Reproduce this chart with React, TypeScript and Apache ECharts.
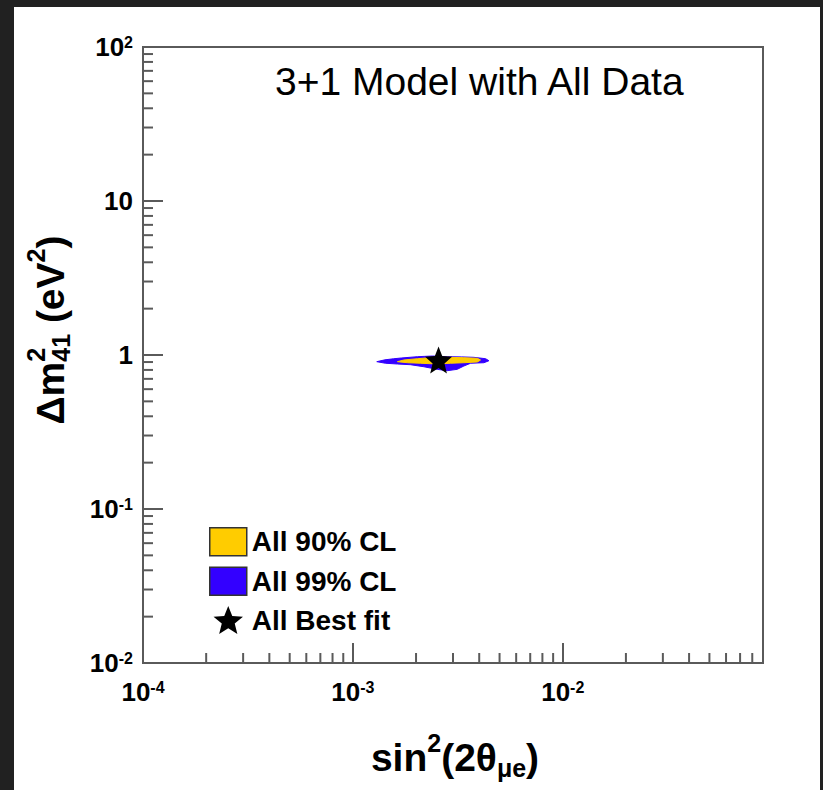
import React, { useEffect, useRef } from "react";
import * as echarts from "echarts";

const FONT = '"Liberation Sans", Arial, Helvetica, sans-serif';

// ---- data ----
const chartTitle = "3+1 Model with All Data";
const seriesNames = ["All 90% CL", "All 99% CL", "All Best fit"];

const xRange = [1e-4, 0.09];
const yRange = [1e-2, 1e2];
const xMajorTicks = [1e-4, 1e-3, 1e-2];
const yMajorTicks = [1e-2, 1e-1, 1, 10, 100];
const xMinorTicks = [
  2e-4, 3e-4, 4e-4, 5e-4, 6e-4, 7e-4, 8e-4, 9e-4,
  2e-3, 3e-3, 4e-3, 5e-3, 6e-3, 7e-3, 8e-3, 9e-3,
  0.02, 0.03, 0.04, 0.05, 0.06, 0.07, 0.08,
];
const yMinorTicks = [
  0.02, 0.03, 0.04, 0.05, 0.06, 0.07, 0.08, 0.09,
  0.2, 0.3, 0.4, 0.5, 0.6, 0.7, 0.8, 0.9,
  2, 3, 4, 5, 6, 7, 8, 9,
  20, 30, 40, 50, 60, 70, 80, 90,
];

// 99% CL contour (sin^2 2theta, dm^2)
const contour99Sin = [
  1.30e-3, 1.42e-3, 1.56e-3, 1.70e-3, 2.03e-3, 2.40e-3, 2.82e-3, 3.30e-3, 3.77e-3, 4.29e-3, 4.45e-3,
  4.21e-3, 3.64e-3, 3.38e-3, 3.14e-3, 2.82e-3, 2.52e-3, 2.18e-3, 1.88e-3, 1.63e-3, 1.43e-3,
];
const contour99Dm = [
  0.905, 0.930, 0.945, 0.956, 0.975, 0.985, 0.975, 0.972, 0.966, 0.946, 0.918,
  0.891, 0.884, 0.848, 0.807, 0.791, 0.807, 0.839, 0.865, 0.874, 0.884,
];
// 90% CL contour
const contour90Sin = [
  1.63e-3, 1.75e-3, 2.03e-3, 2.34e-3, 2.82e-3, 3.38e-3, 3.92e-3, 4.06e-3,
  3.92e-3, 3.38e-3, 2.92e-3, 2.52e-3, 2.10e-3, 1.82e-3,
];
const contour90Dm = [
  0.905, 0.928, 0.946, 0.961, 0.966, 0.961, 0.952, 0.928,
  0.901, 0.891, 0.884, 0.874, 0.884, 0.891,
];
const bestFitSin = [2.56e-3];
const bestFitDm = [0.928];

// ---- helpers ----
const lg = (v: number) => Math.log10(v);
const STAR =
  "path://M50 0 L62.93 32.2 L97.55 34.55 L70.92 56.8 L79.39 90.45 L50 72 L20.61 90.45 L29.08 56.8 L2.45 34.55 L37.07 32.2 Z";

let ctx: CanvasRenderingContext2D | null = null;
function measure(t: string, size: number) {
  if (!ctx) ctx = document.createElement("canvas").getContext("2d");
  if (!ctx) return t.length * size * 0.55;
  ctx.font = `bold ${size}px ${FONT}`;
  return ctx.measureText(t).width;
}

type Piece = { t: string; size: number; dy: number; stack?: boolean };
function buildRow(items: Piece[]) {
  let x = 0;
  const children: any[] = [];
  const mk = (it: Piece, px: number) => ({
    type: "text",
    x: px,
    y: it.dy,
    style: {
      text: it.t,
      fontSize: it.size,
      fontWeight: "bold",
      fontFamily: FONT,
      fill: "#000",
      align: "left",
      verticalAlign: "middle",
    },
  });
  let i = 0;
  while (i < items.length) {
    const it = items[i];
    if (it.stack && items[i + 1]) {
      const it2 = items[i + 1];
      children.push(mk(it, x), mk(it2, x));
      x += Math.max(measure(it.t, it.size), measure(it2.t, it2.size));
      i += 2;
    } else {
      children.push(mk(it, x));
      x += measure(it.t, it.size);
      i += 1;
    }
  }
  return { children, width: x };
}

function labelFmt(majors: number[]) {
  return (v: number) => {
    const hit = majors.find((m) => Math.abs(lg(m) - v) < 1e-6);
    if (hit === undefined) return "";
    const e = Math.round(lg(hit));
    if (e === 0) return "{b|1}";
    if (e === 1) return "{b|10}";
    return `{b|10}{s|${e}}`;
  };
}

const labelRich = {
  b: { fontSize: 26, fontWeight: "bold", fontFamily: FONT, color: "#000" },
  s: { fontSize: 16, fontWeight: "bold", fontFamily: FONT, color: "#000", verticalAlign: "top" },
};

const AXIS_COLOR = "#5a5a5a";

export default function App() {
  const ref = useRef<HTMLDivElement>(null);
  useEffect(() => {
    if (!ref.current) return;
    const chart = echarts.init(ref.current, undefined, { renderer: "svg" });

    const yTitle = buildRow([
      { t: "Δm", size: 39, dy: 0 },
      { t: "2", size: 25, dy: -14, stack: true },
      { t: "41", size: 25, dy: 11 },
      { t: " (eV", size: 39, dy: 0 },
      { t: "2", size: 25, dy: -14 },
      { t: ")", size: 39, dy: 0 },
    ]);
    const xTitle = buildRow([
      { t: "sin", size: 39, dy: 0 },
      { t: "2", size: 25, dy: -14 },
      { t: "(2θ", size: 39, dy: 0 },
      { t: "μe", size: 25, dy: 11 },
      { t: ")", size: 39, dy: 0 },
    ]);

    const polygonSeries = (name: string, xs: number[], ys: number[], color: string) => ({
      type: "custom",
      name,
      coordinateSystem: "cartesian2d",
      silent: true,
      z: 3,
      itemStyle: { color },
      data: xs.map((s, i) => [lg(s), lg(ys[i])]),
      renderItem: (params: any, api: any) => {
        if (params.dataIndex !== 0) return null;
        const pts = xs.map((s, i) => api.coord([lg(s), lg(ys[i])]));
        return {
          type: "polygon",
          shape: { points: pts },
          style: { fill: color, stroke: color, lineWidth: 1 },
        };
      },
    });

    const axisCommon = {
      type: "value",
      interval: 1,
      axisLine: { show: true, onZero: false, lineStyle: { color: AXIS_COLOR, width: 2 } },
      axisTick: { show: true, inside: true, length: 20, lineStyle: { color: AXIS_COLOR, width: 2 } },
      splitLine: { show: false },
    };

    const option: any = {
      animation: false,
      backgroundColor: "#ffffff",
      grid: {
        left: 143,
        top: 47,
        width: 620,
        height: 616,
        show: true,
        borderColor: AXIS_COLOR,
        borderWidth: 2,
        backgroundColor: "transparent",
      },
      xAxis: {
        ...axisCommon,
        min: lg(xRange[0]),
        max: lg(xRange[1]),
        axisLabel: {
          margin: 16,
          showMaxLabel: false,
          formatter: labelFmt(xMajorTicks),
          rich: labelRich,
        },
      },
      yAxis: {
        ...axisCommon,
        min: lg(yRange[0]),
        max: lg(yRange[1]),
        axisLabel: {
          margin: 10,
          formatter: labelFmt(yMajorTicks),
          rich: labelRich,
        },
      },
      legend: {
        orient: "vertical",
        left: 204,
        top: 522,
        itemWidth: 37,
        itemHeight: 28,
        itemGap: 10,
        selectedMode: false,
        textStyle: { fontSize: 28, fontWeight: "bold", color: "#000", fontFamily: FONT },
        data: [
          { name: seriesNames[0], icon: "rect", itemStyle: { color: "#FFCC00", borderColor: "#333", borderWidth: 1.5, opacity: 1 } },
          { name: seriesNames[1], icon: "rect", itemStyle: { color: "#3300FF", borderColor: "#333", borderWidth: 1.5, opacity: 1 } },
          { name: seriesNames[2], icon: STAR, itemStyle: { color: "#000", opacity: 1 } },
        ],
      },
      series: [
        polygonSeries(seriesNames[1], contour99Sin, contour99Dm, "#3300FF"),
        polygonSeries(seriesNames[0], contour90Sin, contour90Dm, "#FFCC00"),
        {
          type: "scatter",
          name: seriesNames[2],
          symbol: STAR,
          symbolSize: 27,
          z: 5,
          itemStyle: { color: "#000", opacity: 1 },
          data: bestFitSin.map((s, i) => [lg(s), lg(bestFitDm[i])]),
        },
        {
          type: "custom",
          silent: true,
          clip: false,
          z: 4,
          data: xMinorTicks.map((v) => [lg(v), lg(yRange[0])]),
          renderItem: (params: any, api: any) => {
            const p = api.coord([api.value(0), api.value(1)]);
            return {
              type: "line",
              shape: { x1: p[0], y1: p[1], x2: p[0], y2: p[1] - 10 },
              style: { stroke: AXIS_COLOR, lineWidth: 2 },
            };
          },
        },
        {
          type: "custom",
          silent: true,
          clip: false,
          z: 4,
          data: yMinorTicks.map((v) => [lg(xRange[0]), lg(v)]),
          renderItem: (params: any, api: any) => {
            const p = api.coord([api.value(0), api.value(1)]);
            return {
              type: "line",
              shape: { x1: p[0], y1: p[1], x2: p[0] + 10, y2: p[1] },
              style: { stroke: AXIS_COLOR, lineWidth: 2 },
            };
          },
        },
      ],
      graphic: [
        {
          type: "text",
          left: 275,
          top: 62,
          style: { text: chartTitle, fontSize: 39, fontFamily: FONT, fill: "#000" },
        },
        {
          type: "group",
          x: 455 - xTitle.width / 2,
          y: 757,
          children: xTitle.children,
        },
        {
          type: "group",
          x: 50,
          y: 330 + yTitle.width / 2,
          rotation: Math.PI / 2,
          children: yTitle.children,
        },
        { type: "rect", shape: { x: 0, y: 0, width: 14, height: 790 }, style: { fill: "#212121" }, z: 100 },
        { type: "rect", shape: { x: 0, y: 0, width: 823, height: 7 }, style: { fill: "#212121" }, z: 100 },
        { type: "rect", shape: { x: 820, y: 0, width: 3, height: 790 }, style: { fill: "#212121" }, z: 100 },
      ],
    };
    chart.setOption(option);
    return () => chart.dispose();
  }, []);
  return (
    <div
      ref={ref}
      style={{ position: "absolute", left: 0, top: 0, width: 823, height: 790 }}
    />
  );
}
